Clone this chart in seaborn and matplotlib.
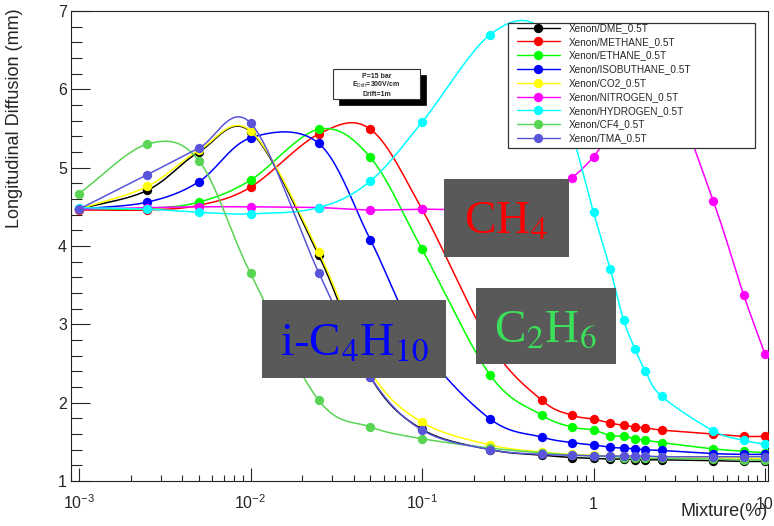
import numpy as np
import matplotlib
matplotlib.use("Agg")
import matplotlib.pyplot as plt
import seaborn as sns
from matplotlib.lines import Line2D
from matplotlib.patches import Rectangle
from matplotlib.ticker import LogLocator, MultipleLocator, NullFormatter

# Gas fraction in xenon (%)
mixture = [0.001, 0.0025, 0.005, 0.01, 0.025, 0.05, 0.1, 0.25, 0.5, 0.75,
           1, 1.25, 1.5, 1.75, 2, 2.5, 5, 7.5, 10]

# Longitudinal diffusion (mm)
dme = [4.47, 4.71, 5.20, 5.46, 3.88, 2.33, 1.66, 1.40, 1.33, 1.30,
       1.29, 1.28, 1.28, 1.27, 1.27, 1.27, 1.26, 1.25, 1.25]
methane = [4.46, 4.46, 4.52, 4.75, 5.43, 5.49, 4.47, 2.75, 2.03, 1.84,
           1.79, 1.74, 1.71, 1.69, 1.68, 1.65, 1.60, 1.57, 1.57]
ethane = [4.47, 4.48, 4.56, 4.84, 5.49, 5.13, 3.96, 2.35, 1.84, 1.69,
          1.65, 1.58, 1.57, 1.54, 1.52, 1.49, 1.41, 1.38, 1.36]
isobutane = [4.47, 4.56, 4.82, 5.38, 5.31, 4.08, 2.72, 1.79, 1.56, 1.49,
             1.46, 1.43, 1.42, 1.41, 1.40, 1.39, 1.35, 1.34, 1.34]
co2 = [4.47, 4.76, 5.22, 5.47, 3.92, 2.40, 1.75, 1.46, 1.37, 1.34,
       1.33, 1.32, 1.32, 1.31, 1.31, 1.31, 1.30, 1.29, 1.29]
nitrogen = [4.47, 4.49, 4.50, 4.50, 4.49, 4.46, 4.47, 4.47, 4.60, 4.87,
            5.14, 5.45, 5.75, 6.00, 6.15, 6.30, 4.57, 3.38, 2.62]
hydrogen = [4.49, 4.47, 4.43, 4.41, 4.49, 4.83, 5.58, 6.70, 6.75, 5.45,
            4.43, 3.71, 3.05, 2.68, 2.41, 2.08, 1.64, 1.52, 1.47]
cf4 = [4.67, 5.30, 5.09, 3.65, 2.03, 1.69, 1.54, 1.42, 1.36, 1.33,
       1.32, 1.31, 1.30, 1.30, 1.29, 1.29, 1.28, 1.27, 1.27]
tma = [4.47, 4.91, 5.25, 5.57, 3.66, 2.33, 1.65, 1.40, 1.34, 1.33,
       1.32, 1.32, 1.32, 1.32, 1.32, 1.31, 1.31, 1.31, 1.31]

series = [dme, methane, ethane, isobutane, co2, nitrogen, hydrogen, cf4, tma]
labels = ["Xenon/DME_0.5T", "Xenon/METHANE_0.5T", "Xenon/ETHANE_0.5T",
          "Xenon/ISOBUTHANE_0.5T", "Xenon/CO2_0.5T", "Xenon/NITROGEN_0.5T",
          "Xenon/HYDROGEN_0.5T", "Xenon/CF4_0.5T", "Xenon/TMA_0.5T"]
colors = ["#000000", "#ff0000", "#00ff00", "#0000ff", "#ffff00",
          "#ff00ff", "#00ffff", "#59d454", "#5954d9"]

xticks = [0.001, 0.01, 0.1, 1, 10]
xticklabels = ["$10^{-3}$", "$10^{-2}$", "$10^{-1}$", "1", "10"]


def smooth(xs, ys, n=24):
    # Catmull-Rom curve through the points in (log x, y), like ROOT's "C" option
    p = np.column_stack([np.log10(xs), ys])
    p = np.vstack([2 * p[0] - p[1], p, 2 * p[-1] - p[-2]])
    t = np.linspace(0, 1, n, endpoint=False)[:, None]
    h00 = 2 * t**3 - 3 * t**2 + 1
    h10 = t**3 - 2 * t**2 + t
    h01 = -2 * t**3 + 3 * t**2
    h11 = t**3 - t**2
    parts = []
    for i in range(1, len(p) - 2):
        m1 = (p[i + 1] - p[i - 1]) / 2
        m2 = (p[i + 2] - p[i]) / 2
        parts.append(h00 * p[i] + h10 * m1 + h01 * p[i + 1] + h11 * m2)
    parts.append(p[-2][None, :])
    c = np.vstack(parts)
    return 10 ** c[:, 0], c[:, 1]


sns.set_style("ticks")
plt.rcParams["font.family"] = ["Liberation Sans", "DejaVu Sans"]
plt.rcParams["mathtext.fontset"] = "custom"
plt.rcParams["mathtext.rm"] = "Liberation Sans"
plt.rcParams["mathtext.it"] = "Liberation Sans:italic"
plt.rcParams["mathtext.bf"] = "Liberation Sans:bold"

W, H = 774, 526
fig = plt.figure(figsize=(W / 100, H / 100), dpi=100)
ax = fig.add_axes([71 / W, 45 / H, 697 / W, 470 / H])
ax.set_xscale("log")

for k, (vals, col) in enumerate(zip(series, colors)):
    cx, cy = smooth(mixture, vals)
    sns.lineplot(x=cx, y=cy, color=col, lw=1.1, sort=False, estimator=None, ax=ax)
    ax.lines[-1].set_zorder(2 + 2 * k)
    sns.scatterplot(x=mixture, y=vals, color=col, s=45, linewidth=0, ax=ax,
                    zorder=3 + 2 * k)

ax.set_xlim(10 ** (-3 - 8 / 171.5), 10 ** (1 + 3 / 171.5))
ax.set_ylim(1, 7)

ax.set_xticks(xticks, xticklabels)
ax.xaxis.set_minor_locator(LogLocator(base=10, subs=np.arange(2, 10)))
ax.xaxis.set_minor_formatter(NullFormatter())
ax.yaxis.set_major_locator(MultipleLocator(1))
ax.yaxis.set_minor_locator(MultipleLocator(0.2))
ax.tick_params(axis="x", which="major", direction="in", length=9.5, width=0.8,
               labelsize=11.5, pad=20)
ax.tick_params(axis="x", which="minor", direction="in", length=4.5, width=0.8)
ax.tick_params(axis="y", which="major", direction="in", length=14, width=0.8,
               labelsize=11.5, pad=3)
ax.tick_params(axis="y", which="minor", direction="in", length=8, width=0.8)
for lbl in ax.get_xticklabels():
    lbl.set_verticalalignment("baseline")
for s in ax.spines.values():
    s.set_linewidth(0.8)
    s.set_color("#222222")

ax.set_ylabel("Longitudinal Diffusion (mm)", fontsize=13, loc="top")
ax.yaxis.set_label_coords(-0.069, 1.006)
ax.set_xlabel("Mixture(%)", fontsize=13, loc="right")
ax.xaxis.set_label_coords(1.0, -0.047)


def fx(px):
    return px / W


def fy(py):
    return 1 - py / H


def box(x0, y0, x1, y1, **kw):
    r = Rectangle((fx(x0), fy(y1)), fx(x1) - fx(x0), fy(y0) - fy(y1),
                  transform=fig.transFigure, **kw)
    fig.add_artist(r)


# legend frame and entries
box(507.5, 23, 755, 148, facecolor="white", edgecolor="#333333", lw=0.9, zorder=3)
handles = [Line2D([], [], color=c, lw=1.0, marker="o", markersize=6.7,
                  markeredgewidth=0) for c in colors]
fig.legend(handles, labels, loc="upper left", bbox_to_anchor=(fx(516.5), fy(23)),
           bbox_transform=fig.transFigure, frameon=False, fontsize=7.2,
           handlelength=4.3, handletextpad=0.9, labelspacing=0.38,
           borderpad=0, borderaxespad=0, numpoints=1)

# run condition box with shadow
box(339, 75, 426, 105, facecolor="black", edgecolor="black", lw=0.5, zorder=3)
box(333, 69, 420, 99, facecolor="white", edgecolor="#333333", lw=0.8, zorder=3.5)
for txt, yb in [("P=15 bar", 78), (r"E$_{\mathrm{Drift}}$=300V/cm", 87), ("Drift=1m", 96)]:
    fig.text(fx(376.5), fy(yb), txt, ha="center", va="baseline", fontsize=5,
             fontweight="bold", zorder=4)

# formula boxes
box(444, 179, 568.5, 256.5, facecolor="#595959", edgecolor="none", zorder=3)
box(262, 300, 446, 377.7, facecolor="#595959", edgecolor="none", zorder=3)
box(476, 288, 615.5, 364, facecolor="#595959", edgecolor="none", zorder=3)
fig.text(fx(506), fy(233.3), "CH$_4$", ha="center", va="baseline", fontsize=34,
         color="#ff0000", family="Liberation Serif", math_fontfamily="stix", zorder=4)
fig.text(fx(354), fy(355), "i-C$_4$H$_{10}$", ha="center", va="baseline", fontsize=34,
         color="#0000ff", family="Liberation Serif", math_fontfamily="stix", zorder=4)
fig.text(fx(546), fy(341.7), "C$_2$H$_6$", ha="center", va="baseline", fontsize=34,
         color="#3be05a", family="Liberation Serif", math_fontfamily="stix", zorder=4)

fig.savefig("out.png", dpi=100)
